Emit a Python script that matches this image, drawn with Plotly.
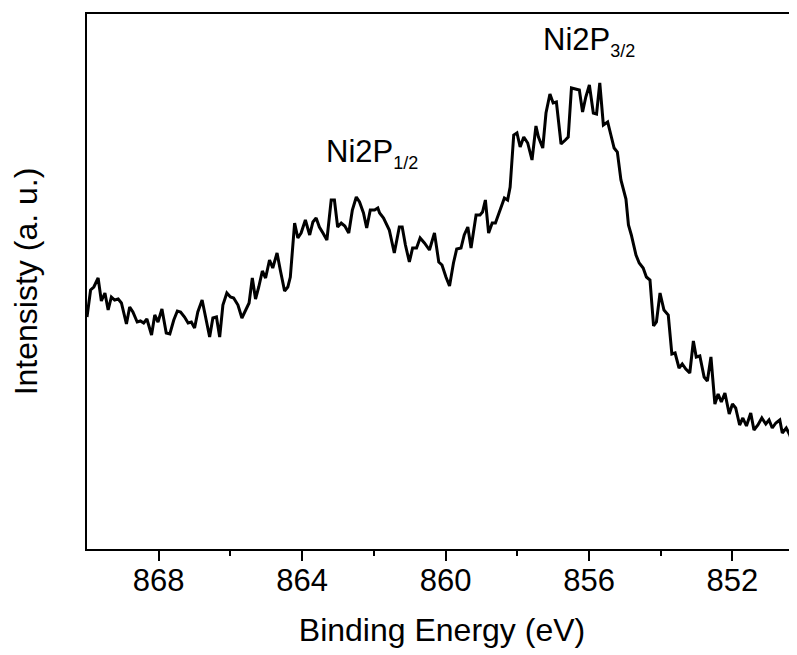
import plotly.graph_objects as go

binding_energy = [
    870.00, 869.90, 869.81, 869.69, 869.60, 869.50, 869.41, 869.32, 869.23, 869.13,
    869.04, 868.90, 868.81, 868.72, 868.60, 868.51, 868.42, 868.33, 868.20, 868.11,
    868.02, 867.91, 867.79, 867.69, 867.58, 867.48, 867.39, 867.28, 867.18, 867.09,
    867.00, 866.91, 866.79, 866.69, 866.58, 866.49, 866.39, 866.30, 866.21, 866.10,
    866.00, 865.91, 865.79, 865.68, 865.56, 865.48, 865.39, 865.30, 865.21, 865.11,
    865.02, 864.91, 864.82, 864.70, 864.61, 864.49, 864.40, 864.33, 864.21, 864.12,
    864.03, 863.91, 863.79, 863.70, 863.61, 863.52, 863.42, 863.31, 863.19, 863.10,
    863.01, 862.91, 862.81, 862.70, 862.60, 862.49, 862.40, 862.29, 862.20, 862.10,
    861.98, 861.89, 861.84, 861.73, 861.57, 861.43, 861.29, 861.21, 861.12, 861.01,
    860.92, 860.81, 860.71, 860.59, 860.45, 860.31, 860.19, 860.10, 859.99, 859.89,
    859.78, 859.69, 859.57, 859.48, 859.38, 859.29, 859.15, 859.04, 858.97, 858.89,
    858.80, 858.70, 858.61, 858.48, 858.36, 858.27, 858.20, 858.10, 858.01, 857.92,
    857.82, 857.71, 857.59, 857.48, 857.41, 857.29, 857.20, 857.09, 857.00, 856.91,
    856.78, 856.66, 856.58, 856.49, 856.36, 856.27, 856.18, 856.09, 855.99, 855.88,
    855.79, 855.70, 855.60, 855.48, 855.39, 855.30, 855.21, 855.11, 854.97, 854.90,
    854.82, 854.69, 854.60, 854.49, 854.40, 854.30, 854.20, 854.12, 854.02, 853.91,
    853.79, 853.69, 853.60, 853.49, 853.40, 853.30, 853.19, 853.09, 853.01, 852.91,
    852.79, 852.70, 852.60, 852.49, 852.40, 852.31, 852.21, 852.09, 852.00, 851.91,
    851.80, 851.71, 851.61, 851.49, 851.40, 851.29, 851.18, 851.07, 850.98, 850.89,
    850.79, 850.68, 850.61, 850.50, 850.40, 850.28, 850.23, 850.14, 850.00,
]

intensity = [
    232, 259, 262, 271, 248, 256, 239, 252, 249, 250,
    246, 225, 242, 237, 227, 228, 226, 230, 214, 234,
    227, 240, 216, 215, 229, 238, 237, 232, 226, 227,
    221, 237, 249, 231, 212, 231, 232, 212, 244, 256,
    252, 251, 244, 231, 241, 246, 271, 250, 262, 278,
    271, 289, 281, 296, 279, 258, 262, 272, 326, 311,
    316, 329, 314, 327, 331, 322, 316, 309, 349, 349,
    322, 326, 323, 316, 339, 352, 347, 336, 321, 339,
    339, 341, 336, 331, 319, 296, 322, 322, 304, 287,
    301, 301, 311, 306, 299, 316, 287, 284, 272, 263,
    286, 300, 301, 314, 322, 301, 334, 334, 337, 349,
    316, 326, 326, 339, 351, 349, 362, 414, 416, 402,
    412, 406, 389, 423, 412, 401, 436, 455, 446, 447,
    405, 409, 412, 461, 460, 459, 437, 452, 464, 436,
    435, 466, 424, 427, 414, 401, 397, 369, 350, 324,
    314, 294, 286, 281, 272, 269, 223, 227, 256, 239,
    234, 195, 196, 181, 185, 180, 176, 208, 192, 193,
    172, 168, 192, 145, 155, 147, 156, 135, 145, 141,
    124, 131, 123, 136, 119, 124, 131, 125, 129, 121,
    126, 129, 116, 121, 114, 99, 91, 79, 64,
]

tick_values = [868, 864, 860, 856, 852]
tick_labels = ["868", "864", "860", "856", "852"]
minor_tick_values = [866, 862, 858, 854]

x_title = "Binding Energy (eV)"
y_title = "Intensisty (a. u.)"

peak_labels = [
    'Ni2P<sub><span style="font-size:18px">1/2</span></sub>',
    'Ni2P<sub><span style="font-size:18px">3/2</span></sub>',
]
peak_label_x = [863.38, 857.33]
peak_label_y = [374, 486]

FONT = "Liberation Sans, Arial, sans-serif"

fig = go.Figure()
fig.add_trace(go.Scatter(
    x=binding_energy, y=intensity, mode="lines",
    line=dict(color="black", width=3),
    showlegend=False, hoverinfo="skip",
))

for txt, xv, yv in zip(peak_labels, peak_label_x, peak_label_y):
    fig.add_annotation(
        x=xv, y=yv, xref="x", yref="y", text=txt, showarrow=False,
        xanchor="left", yanchor="bottom",
        font=dict(family=FONT, size=31, color="black"),
    )

# The page body has an 8px default margin, so the figure is 8px smaller than the window.
fig.update_layout(
    width=789, height=647,
    margin=dict(l=79, r=0, t=6, b=106, autoexpand=False),
    paper_bgcolor="white", plot_bgcolor="white",
    font=dict(family=FONT, color="black"),
)

fig.update_xaxes(
    range=[870, 850.2], autorange=False, automargin=False,
    showgrid=False, zeroline=False,
    showline=True, linecolor="black", linewidth=2, mirror=True,
    tickmode="array", tickvals=tick_values, ticktext=tick_labels,
    ticks="outside", ticklen=10, tickwidth=2, tickcolor="black",
    ticklabelstandoff=-7,
    tickfont=dict(family=FONT, size=31, color="black"),
    minor=dict(tickvals=minor_tick_values, ticks="outside", ticklen=5, tickwidth=2, tickcolor="black"),
    title=dict(text=x_title, font=dict(family=FONT, size=32, color="black"), standoff=21),
)

fig.update_yaxes(
    range=[0, 535], autorange=False, automargin=False,
    showgrid=False, zeroline=False,
    showline=True, linecolor="black", linewidth=2, mirror=False,
    showticklabels=False, ticks="",
    title=dict(text=y_title, font=dict(family=FONT, size=32, color="black"), standoff=42),
)

fig.write_html("out.html")
